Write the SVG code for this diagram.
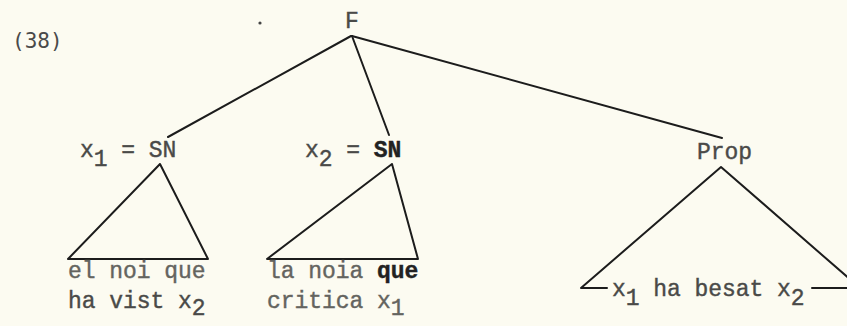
<svg xmlns="http://www.w3.org/2000/svg" width="847" height="326" viewBox="0 0 847 326">
<style>
.bg{fill:#fcfbf1}
.t{font-family:"Liberation Mono","Courier New",monospace;font-size:23px;fill:#4a4a48;stroke:#4a4a48;stroke-width:0.4;text-anchor:middle}
.lt{fill:#64645f;stroke:#64645f}
.b{font-weight:bold;fill:#222;stroke:#222}
.num{font-family:"DejaVu Sans Mono",monospace;font-size:21px;fill:#4a4a4a}
.ln{stroke:#1c1c1c;stroke-width:2;fill:none;stroke-linecap:round;stroke-linejoin:round}
</style>
<rect class="bg" x="0" y="0" width="847" height="326"/>
<text class="num" x="12" y="48">(38)</text>
<circle cx="260" cy="23" r="1.6" fill="#444"/>
<g id="connectors">
<line class="ln" x1="351" y1="36" x2="168" y2="137"/>
<line class="ln" x1="352" y1="36" x2="389" y2="135"/>
<line class="ln" x1="352" y1="36" x2="722" y2="138"/>
</g>
<g id="F"><text class="t" x="352" y="28">F</text></g>
<g id="SN1"><text class="t" y="157"><tspan x="86.9">x</tspan><tspan x="100.6" dy="9">1</tspan><tspan x="128.1" dy="-9">=</tspan><tspan x="155.6 169.4">SN</tspan></text></g>
<g id="SN2"><text class="t" y="157"><tspan x="311.9">x</tspan><tspan x="325.6" dy="9">2</tspan><tspan x="353.1" dy="-9">=</tspan><tspan class="b" x="380.6 394.4">SN</tspan></text></g>
<g id="Prop"><text class="t" x="703.9 717.6 731.4 745.1" y="159">Prop</text></g>
<g id="tri1">
<polygon class="ln" points="160,164 68,259 208,259"/>
<text class="t lt" x="74.9 88.6 102.4 116.1 129.9 143.6 157.4 171.1 184.9 198.6" y="278">el noi que</text>
<text class="t" y="308"><tspan x="74.9 88.6 102.4 116.1 129.9 143.6 157.4 171.1 184.9">ha vist x</tspan><tspan x="198.6" dy="7">2</tspan></text>
</g>
<g id="tri2">
<polygon class="ln" points="392,164 267,259 418,259"/>
<text class="t lt" y="278"><tspan x="273.9 287.6 301.4 315.1 328.9 342.6 356.4 370.1">la noia </tspan><tspan class="b" x="383.9 397.6 411.4">que</tspan></text>
<text class="t lt" y="308"><tspan x="273.9 287.6 301.4 315.1 328.9 342.6 356.4 370.1 383.9">critica x</tspan><tspan x="397.6" dy="7">1</tspan></text>
</g>
<g id="tri3">
<polyline class="ln" points="607,288 581,288 721,167 860,288"/>
<line class="ln" x1="812" y1="288" x2="847" y2="288"/>
<text class="t" y="296"><tspan x="618.9">x</tspan><tspan x="632.6" dy="9">1</tspan><tspan x="660.1 673.9 687.6 701.4 715.1 728.9 742.6 756.4 770.1" dy="-9">ha besat </tspan><tspan x="783.9">x</tspan><tspan x="797.6" dy="9">2</tspan></text>
</g>
</svg>
